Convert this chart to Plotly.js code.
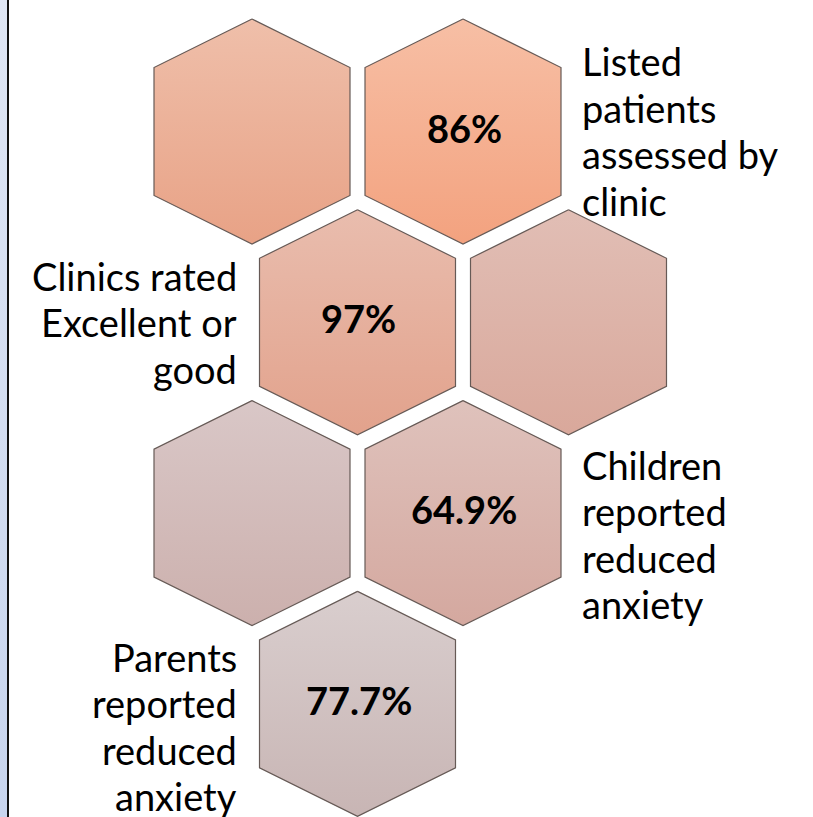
<!DOCTYPE html>
<html>
<head>
<meta charset="utf-8">
<script src="https://cdn.plot.ly/plotly-3.0.1.min.js"></script>
<style>
html,body{margin:0;padding:0;background:#fff;}
#chart{width:813px;height:817px;}
</style>
</head>
<body>
<div id="chart"></div>
<script>
// ---- data ----
const hexRow   = [0, 0, 1, 1, 2, 2, 3];
const hexCol   = [0, 1, 0, 1, 0, 1, 0];
const hexValue = ['', '86%', '97%', '', '', '64.9%', '77.7%'];

const labelLines = [
  ['Listed', 'patients', 'assessed by', 'clinic'],
  ['Clinics rated', 'Excellent or', 'good'],
  ['Children', 'reported', 'reduced', 'anxiety'],
  ['Parents', 'reported', 'reduced', 'anxiety']
];
const labelHex  = [1, 2, 5, 6];          // which hexagon each label belongs to
const labelSide = ['right', 'left', 'right', 'left'];

// ---- styles / geometry ----
const hexTopColor    = ['#efbfaa', '#f7bfa5', '#e9bdae', '#e1beb5', '#d9c7c7', '#dfc2bc', '#d9cece'];
const hexBottomColor = ['#e8a286', '#f3a27f', '#e2a28c', '#d9a89b', '#ccb0ad', '#d4a89f', '#c8b5b4'];
const X0 = 252, Y0 = 131.5, DX = 211, DY = 190.8;
const HW = 98, HH = 112.5, HS = 64;
const FONT = 'Lato, "Open Sans", sans-serif';
const LABEL_SIZE = 38, VALUE_SIZE = 38;
const LINE_GAP = 46.5;
const labelFirstBaseline = [-57.5, -33.8, -35.5, -34];
const BASELINE_SHIFT = 13;   // baseline lies below middle anchor

function centre(i){
  return [X0 + hexCol[i]*DX + (hexRow[i] % 2)*DX/2, Y0 + hexRow[i]*DY];
}

const traces = [];
// left blue strip
traces.push({
  x:[0,7,7,0,0], y:[0,0,817,817,0], mode:'lines', fill:'toself',
  line:{width:0, color:'rgba(0,0,0,0)'},
  fillgradient:{type:'vertical', colorscale:[[0,'#dfe6f4'],[1,'#c8d5ee']], start:0, stop:817},
  hoverinfo:'skip', showlegend:false
});
traces.push({
  x:[8,8], y:[0,817], mode:'lines', line:{width:2, color:'#111'},
  hoverinfo:'skip', showlegend:false
});

for (let i = 0; i < hexRow.length; i++){
  const [cx, cy] = centre(i);
  const xs = [cx, cx+HW, cx+HW, cx, cx-HW, cx-HW, cx];
  const ys = [cy-HH, cy-HS, cy+HS, cy+HH, cy+HS, cy-HS, cy-HH];
  traces.push({
    x: xs, y: ys, mode:'lines', fill:'toself',
    line:{color:'#665a56', width:1.2},
    fillgradient:{type:'vertical', colorscale:[[0, hexTopColor[i]],[1, hexBottomColor[i]]], start: cy-HH, stop: cy+HH},
    hoverinfo:'skip', showlegend:false
  });
}

const annotations = [];
for (let i = 0; i < hexRow.length; i++){
  if (!hexValue[i]) continue;
  const [cx, cy] = centre(i);
  annotations.push({
    x: cx + 1, y: cy - 4, xref:'x', yref:'y', text: '<b>' + hexValue[i] + '</b>',
    showarrow:false, xanchor:'center', yanchor:'middle',
    font:{family:FONT, size:VALUE_SIZE, color:'#000'}
  });
}
for (let k = 0; k < labelLines.length; k++){
  const [cx, cy] = centre(labelHex[k]);
  const right = labelSide[k] === 'right';
  labelLines[k].forEach((line, j) => {
    annotations.push({
      x: right ? cx + HW + 19 : cx - HW - 21,
      y: cy + labelFirstBaseline[k] + j*LINE_GAP - BASELINE_SHIFT,
      xref:'x', yref:'y', text: line, showarrow:false,
      xanchor: right ? 'left' : 'right', yanchor:'middle', align: right ? 'left' : 'right',
      font:{family:FONT, size:LABEL_SIZE, color:'#000'}
    });
  });
}

const layout = {
  width:813, height:817,
  margin:{l:0, r:0, t:0, b:0, pad:0},
  paper_bgcolor:'#ffffff', plot_bgcolor:'#ffffff',
  xaxis:{range:[0,813], visible:false, fixedrange:true},
  yaxis:{range:[817,0], visible:false, fixedrange:true},
  showlegend:false,
  annotations: annotations
};

Plotly.newPlot('chart', traces, layout, {displayModeBar:false, staticPlot:true});
</script>
</body>
</html>
